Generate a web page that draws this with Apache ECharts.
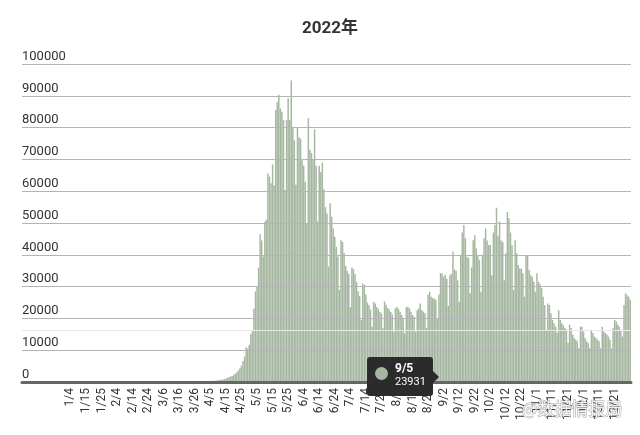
<!DOCTYPE html>
<html>
<head>
<meta charset="utf-8">
<script src="https://cdn.jsdelivr.net/npm/echarts@6/dist/echarts.min.js"></script>
<style>
  html, body { margin: 0; padding: 0; background: #ffffff; }
  #chart { width: 640px; height: 435px; }
</style>
</head>
<body>
<div id="chart"></div>
<script>
// ---- data (daily values, 2022; 1/10 is absent from the source series) ----
const skippedDay = '1/10';
const monthLengths = [31, 28, 31, 30, 31, 30, 31, 31, 30, 31, 30, 31];

const jan = [23, 19, 27, 31, 46, 34, 38, 43, 36,
  52, 49, 61, 58, 52, 55, 47, 50, 62, 65, 59, 71, 66, 50, 47, 53, 58, 60, 52, 48, 43];
const feb = [40, 38, 45, 51, 47, 44, 52, 58, 61, 55, 49, 53, 60, 57, 63, 66, 59, 71, 68, 74,
  70, 66, 72, 78, 81, 75, 69, 73];
const mar = [62, 70, 85, 78, 92, 88, 96, 104, 98, 110, 118, 105, 120, 126, 131, 140, 135, 149, 158, 145,
  160, 172, 181, 176, 190, 205, 198, 215, 230, 248, 262];
const apr = [200, 220, 250, 270, 300, 330, 380, 400, 450, 520, 600, 700, 800, 900, 1100, 1300, 1500, 1700, 1900, 2200,
  2600, 3000, 3600, 4300, 5200, 6600, 8000, 10900, 10500, 11600];
const may = [15100, 15900, 23000, 28500, 30000, 36000, 46500, 44500, 39500, 50400,
  51000, 65600, 64600, 62500, 68400, 61900, 85500, 88000, 90300, 86000,
  85000, 82400, 60400, 82400, 89200, 82400, 94800, 80000, 76000, 62000, 80000];
const jun = [77000, 76500, 70000, 68000, 63000, 50000, 83000, 73000, 72000, 70000,
  79500, 68000, 50500, 68000, 66000, 69000, 60500, 55000, 53000, 36300,
  56200, 52000, 48300, 45700, 42500, 39500, 29000, 44600, 44000, 40500];
const jul = [36500, 35000, 34000, 23500, 36000, 35500, 34000, 31500, 28500, 27000,
  19500, 31000, 30500, 27500, 25000, 24200, 22800, 17400, 25200, 24700,
  23600, 23000, 22000, 21500, 16900, 25300, 24300, 23300, 22800, 22000, 21200];
const aug = [15800, 23200, 23700, 23000, 22100, 21100, 20000, 15300, 23500, 23700,
  23200, 22100, 21100, 20500, 15800, 22600, 23200, 24700, 22600, 22100,
  21600, 17000, 27400, 28400, 26800, 26300, 26300, 25800, 20000, 27500, 34200];
const sep = [34200, 33100, 33700, 32500, 23931, 33500, 34000, 41000, 35400, 35000,
  32000, 25200, 40000, 47000, 49400, 45200, 39400, 39000, 27900, 36000,
  44600, 46200, 42000, 39900, 38400, 28400, 40000, 45200, 48300, 44500];
const oct = [43100, 43100, 33600, 47000, 49400, 54800, 46000, 50500, 44500, 44000,
  32000, 40500, 53500, 51500, 47000, 43000, 28900, 44600, 40500, 36800,
  35700, 35700, 34200, 26800, 39900, 39900, 35200, 33600, 33100, 31500, 28400];
const nov = [34200, 31500, 30700, 29500, 26800, 24200, 16400, 24700, 24200, 21600,
  19500, 18500, 17400, 15500, 22600, 19500, 18500, 17800, 17000, 16500,
  12300, 18000, 17000, 14900, 13800, 13300, 12800, 10600, 17400, 17400];
const dec = [15900, 13800, 12800, 12300, 10600, 16400, 15400, 14300, 13800, 13300,
  12800, 10600, 17400, 15900, 15400, 14900, 14300, 13300, 10600, 16900,
  19500, 19000, 18000, 17400, 16400, 14300, 24200, 27900, 27300, 26800, 25800];

const yTicks = [0, 10000, 20000, 30000, 40000, 50000, 60000, 70000, 80000, 90000, 100000];
const referenceLineValue = 16350;
const highlightedDay = '9/5';
const titleText = '2022年';

// ---- build categories & values ----
const categories = [];
for (let m = 0; m < 12; m++) {
  for (let d = 1; d <= monthLengths[m]; d++) {
    const lab = (m + 1) + '/' + d;
    if (lab !== skippedDay) categories.push(lab);
  }
}
const values = [].concat(jan, feb, mar, apr, may, jun, jul, aug, sep, oct, nov, dec);

const barColor = '#a5b7a0';
const font = 'Roboto, "Noto Sans CJK SC", sans-serif';

const chart = echarts.init(document.getElementById('chart'), null, { renderer: 'canvas' });
const hiIndex = categories.indexOf(highlightedDay);

const option = {
  animation: false,
  backgroundColor: '#ffffff',
  title: {
    text: titleText,
    left: 330,
    top: 20,
    textAlign: 'center',
    padding: 0,
    textStyle: { fontFamily: font, fontSize: 17, fontWeight: 'bold', color: '#333333' }
  },
  grid: [
    { left: 22, right: 9, top: 64, bottom: 53 },
    { left: 65, right: 9, top: 64, bottom: 53 }
  ],
  xAxis: [
    {
      gridIndex: 0, type: 'value', min: 0, max: 1, z: 10,
      axisLine: { show: true, lineStyle: { color: '#666666', width: 3 } },
      axisTick: { show: false }, axisLabel: { show: false }, splitLine: { show: false }
    },
    {
      gridIndex: 1, type: 'category', data: categories, z: 3,
      axisLine: { show: false }, axisTick: { show: false }, splitLine: { show: false },
      axisLabel: {
        rotate: 90, margin: 6, fontSize: 12, fontFamily: font, color: '#333333',
        interval: function (i) { return (i - 3) % 10 === 0 && i < categories.length - 5; }
      }
    }
  ],
  yAxis: [
    {
      gridIndex: 0, type: 'value', min: 0, max: 100000, interval: 10000, z: 10,
      axisLine: { show: false }, axisTick: { show: false },
      splitLine: { show: true, lineStyle: { color: '#b4b4b4', width: 1 } },
      axisLabel: {
        inside: true, margin: 0, verticalAlign: 'bottom', padding: [0, 0, 1, 0],
        fontSize: 13, fontFamily: font, color: '#333333',
        formatter: function (v) { return yTicks.indexOf(v) >= 0 ? String(v) : ''; }
      }
    },
    {
      gridIndex: 1, type: 'value', min: 0, max: 100000, show: false
    }
  ],
  tooltip: {
    trigger: 'item',
    triggerOn: 'none',
    alwaysShowContent: true,
    transitionDuration: 0,
    padding: 0,
    backgroundColor: '#2b2b2b',
    borderColor: '#2b2b2b',
    borderWidth: 0,
    borderRadius: 3,
    extraCssText: 'box-shadow:none;',
    position: function (point, params, dom, rect, size) {
      const p = chart.convertToPixel({ gridIndex: 1 }, [params.dataIndex, 0]);
      return [p[0] - size.contentSize[0] - 15, p[1] - 25];
    },
    formatter: function (params) {
      return '<div style="position:relative;width:66px;height:39px;font-family:Roboto,sans-serif;">' +
        '<span style="position:absolute;left:8px;top:10px;width:13px;height:13px;border-radius:50%;background:' + barColor + ';"></span>' +
        '<div style="position:absolute;left:28px;top:4px;font-size:12px;font-weight:bold;color:#fff;line-height:14px;">' + params.name + '</div>' +
        '<div style="position:absolute;left:28px;top:18px;font-size:11px;color:#fff;line-height:14px;">' + params.value + '</div>' +
        '<div style="position:absolute;right:-6px;top:14px;width:0;height:0;border-left:6px solid #2b2b2b;border-top:6px solid transparent;border-bottom:6px solid transparent;"></div>' +
        '</div>';
    }
  },
  graphic: [
    {
      type: 'text', right: 17, bottom: 17, z: 100,
      style: {
        text: '@数据情报局', font: '17px "Noto Sans CJK SC", sans-serif',
        fill: 'rgba(255,255,255,0.85)', stroke: 'rgba(110,110,110,0.6)', lineWidth: 1
      }
    }
  ],
  series: [
    {
      type: 'line', xAxisIndex: 0, yAxisIndex: 0, data: [], silent: true, z: 9,
      markLine: {
        silent: true, symbol: 'none', label: { show: false },
        lineStyle: { color: '#e9e9e9', type: 'solid', width: 1 },
        data: [{ yAxis: referenceLineValue }]
      }
    },
    {
      type: 'bar', xAxisIndex: 1, yAxisIndex: 1, data: values,
      barCategoryGap: '6%', z: 2,
      itemStyle: { color: barColor },
      emphasis: { disabled: true }
    }
  ]
};

chart.setOption(option);
chart.dispatchAction({ type: 'showTip', seriesIndex: 1, dataIndex: hiIndex });
setTimeout(function () {
  chart.dispatchAction({ type: 'showTip', seriesIndex: 1, dataIndex: hiIndex });
}, 50);
</script>
</body>
</html>
